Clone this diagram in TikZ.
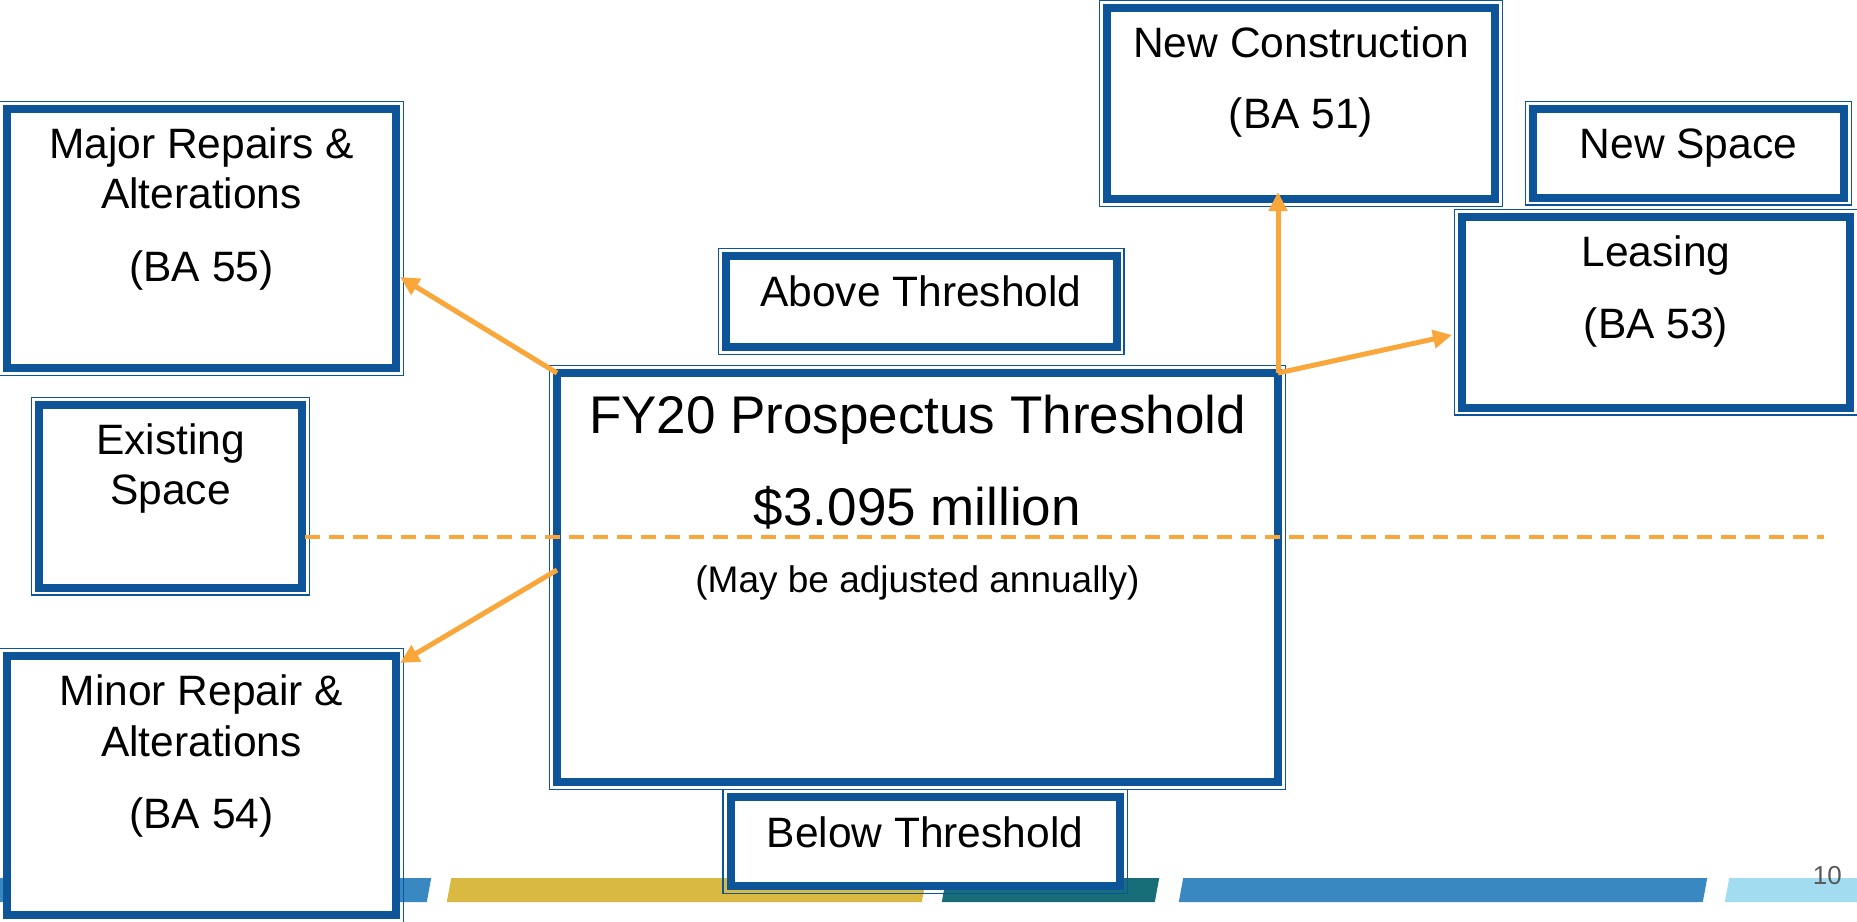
\documentclass[tikz,border=0pt]{standalone}
\usepackage{fontspec}
\setmainfont{Liberation Sans}
\usetikzlibrary{arrows.meta,calc}
\definecolor{frameblue}{HTML}{0E5498}
\definecolor{flowor}{HTML}{F9A73B}
\definecolor{barblue}{HTML}{3A88C2}
\definecolor{bargold}{HTML}{D9B941}
\definecolor{barteal}{HTML}{176E78}
\definecolor{barsky}{HTML}{A2DCF1}
\definecolor{pagegray}{HTML}{595959}
\tikzset{
  framebox/.style={rectangle, draw=frameblue, line width=8pt, fill=white, inner sep=0pt, outer sep=0pt},
  rim/.style={draw=frameblue, line width=1.6pt},
  lbl/.style={anchor=base, inner sep=0pt, font=\fontsize{42.5}{50}\selectfont},
  biglbl/.style={anchor=base, inner sep=0pt, font=\fontsize{53}{60}\selectfont},
  notelbl/.style={anchor=base, inner sep=0pt, font=\fontsize{37}{42}\selectfont},
  flow/.style={draw=flowor, line width=5pt, -{Triangle[length=19pt,width=18pt]}},
  threshold/.style={draw=flowor, line width=3.5pt, dash pattern=on 15pt off 9pt},
}
% box with a heavy border and a thin outer rim; arguments: name, x1, y1, x2, y2 (border centre line)
\newcommand\dblbox[5]{%
  \node[framebox, minimum width={(#4-#2)*1pt}, minimum height={(#5-#3)*1pt}] (#1) at ({(#2+#4)/2},{(#3+#5)/2}) {};
  \draw[rim] ($(#1.north west)+(-7.5pt,7.5pt)$) rectangle ($(#1.south east)+(7.5pt,-7.5pt)$);
}
\begin{document}
\begin{tikzpicture}[x=1pt,y=-1pt]
\fill[white] (0,0) rectangle (1857,921);
\useasboundingbox (0,0) rectangle (1857,921);

% footer band
\fill[barblue] (-5,902) -- (426.8,902) -- (431.2,878) -- (-5,878) -- cycle;
\fill[bargold] (446.8,902) -- (921.8,902) -- (926.2,878) -- (451.2,878) -- cycle;
\fill[barteal] (941.8,902) -- (1154.8,902) -- (1159.2,878) -- (946.2,878) -- cycle;
\fill[barblue] (1178.8,902) -- (1702.8,902) -- (1707.2,878) -- (1183.2,878) -- cycle;
\fill[barsky] (1724.8,902) -- (1862,902) -- (1862,878) -- (1729.2,878) -- cycle;
\node[anchor=base east, inner sep=0pt, text=pagegray, font=\fontsize{26}{30}\selectfont] (page) at (1842,884) {10};

% boxes
\dblbox{major}{7}{109}{396}{368}
\dblbox{exist}{39}{405}{302}{587.5}
\dblbox{minor}{7}{656}{396}{915}
\dblbox{above}{726}{256}{1116.5}{347}
\dblbox{fy}{557}{373}{1278}{782}
\dblbox{newc}{1107}{8}{1495}{199}
\dblbox{news}{1533}{109}{1844}{197.5}
\dblbox{leas}{1462}{217}{1850}{407.5}
\dblbox{below}{730.5}{797}{1120}{886}

% box texts
\node[lbl] (major1) at (201.5,158) {Major Repairs \&};
\node[lbl] (major2) at (201.5,208) {Alterations};
\node[lbl] (major3) at (201.5,281) {(BA 55)};
\node[lbl] (exist1) at (170.5,454) {Existing};
\node[lbl] (exist2) at (170.5,504) {Space};
\node[lbl] (minor1) at (201.5,705) {Minor Repair \&};
\node[lbl] (minor2) at (201.5,756) {Alterations};
\node[lbl] (minor3) at (201.5,828) {(BA 54)};
\node[lbl] (above1) at (921,306) {Above Threshold};
\node[biglbl] (fy1) at (917.5,433) {FY20 Prospectus Threshold};
\node[biglbl] (fy2) at (917.5,525) {\$3.095 million};
\node[notelbl] (fy3) at (917.5,592) {(May be adjusted annually)};
\node[lbl] (newc1) at (1301,57) {New Construction};
\node[lbl] (newc2) at (1301,128) {(BA 51)};
\node[lbl] (news1) at (1688.5,158) {New Space};
\node[lbl] (leas1) at (1656,266) {Leasing};
\node[lbl] (leas2) at (1656,338) {(BA 53)};
\node[lbl] (below1) at (925,847) {Below Threshold};

% threshold line
\coordinate (dashL) at (305,537);
\coordinate (dashR) at (1824,537);
\draw[threshold] (dashL) -- (dashR);

% arrows
\coordinate (majorTip) at (400,277);
\coordinate (minorFrom) at (557,570);
\coordinate (minorTip) at (400,663);
\coordinate (newcTip) at (1278,192);
\coordinate (leasTip) at (1452,335);
\draw[flow] (fy.north west) -- (majorTip);
\draw[flow] (minorFrom) -- (minorTip);
\draw[flow] (fy.north east) -- (newcTip);
\draw[flow] (fy.north east) -- (leasTip);
\end{tikzpicture}
\end{document}
